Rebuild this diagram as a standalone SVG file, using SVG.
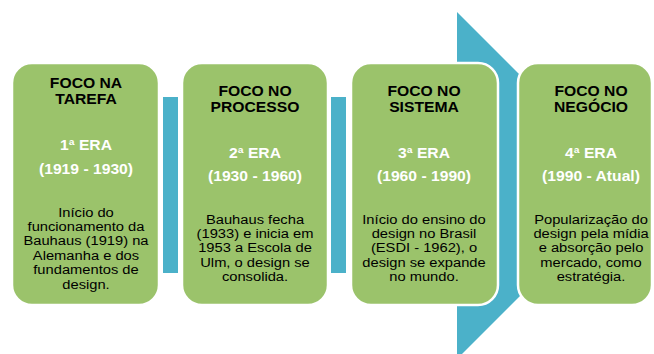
<svg xmlns="http://www.w3.org/2000/svg" width="654" height="354" viewBox="0 0 654 354">
<style>
.box{fill:#9BC36B;stroke:#FFFFFF;stroke-width:2.5}
.con{fill:#4BB1C9}
text{font-family:"Liberation Sans",Arial,sans-serif;text-anchor:middle}
.t{font-size:14px;font-weight:bold;fill:#000}
.e{font-size:14px;font-weight:bold;fill:#FFFFFF}
.b{font-size:13.5px;fill:#000}
</style>
<rect width="654" height="354" fill="#FFFFFF"/>
<g id="connectors">
<rect class="con" x="163" y="97" width="15" height="176"/>
<rect class="con" x="331" y="97" width="15" height="176"/>
<polygon class="con" points="457,12 520,75 520,296 457,359"/>
</g>
<g id="node1">
<rect class="box" x="12" y="63" width="147" height="242" rx="20" ry="20"/>
<g transform="translate(86,0) scale(1.12,1)">
<text class="t" x="0" y="88.5">FOCO NA</text>
<text class="t" x="0" y="104.5">TAREFA</text>
<text class="e" x="0" y="150.5">1ª ERA</text>
<text class="e" x="0" y="174">(1919 - 1930)</text>
</g>
<g transform="translate(86,0) scale(1.09,1)">
<text class="b" x="0" y="216.7">Início do</text>
<text class="b" x="0" y="231.1">funcionamento da</text>
<text class="b" x="0" y="245.5">Bauhaus (1919) na</text>
<text class="b" x="0" y="259.9">Alemanha e dos</text>
<text class="b" x="0" y="274.3">fundamentos de</text>
<text class="b" x="0" y="288.7">design.</text>
</g>
</g>
<g id="node2">
<rect class="box" x="182" y="63" width="146" height="242" rx="20" ry="20"/>
<g transform="translate(255,0) scale(1.12,1)">
<text class="t" x="0" y="95.8">FOCO NO</text>
<text class="t" x="0" y="111.8">PROCESSO</text>
<text class="e" x="0" y="157.8">2ª ERA</text>
<text class="e" x="0" y="181.3">(1930 - 1960)</text>
</g>
<g transform="translate(255,0) scale(1.09,1)">
<text class="b" x="0" y="223.7">Bauhaus fecha</text>
<text class="b" x="0" y="238.1">(1933) e inicia em</text>
<text class="b" x="0" y="252.5">1953 a Escola de</text>
<text class="b" x="0" y="266.9">Ulm, o design se</text>
<text class="b" x="0" y="281.3">consolida.</text>
</g>
</g>
<g id="node3">
<rect class="box" x="351" y="63" width="147" height="242" rx="20" ry="20"/>
<g transform="translate(424,0) scale(1.12,1)">
<text class="t" x="0" y="95.8">FOCO NO</text>
<text class="t" x="0" y="111.8">SISTEMA</text>
<text class="e" x="0" y="157.8">3ª ERA</text>
<text class="e" x="0" y="181.3">(1960 - 1990)</text>
</g>
<g transform="translate(424,0) scale(1.09,1)">
<text class="b" x="0" y="223.7">Início do ensino do</text>
<text class="b" x="0" y="238.1">design no Brasil</text>
<text class="b" x="0" y="252.5">(ESDI - 1962), o</text>
<text class="b" x="0" y="266.9">design se expande</text>
<text class="b" x="0" y="281.3">no mundo.</text>
</g>
</g>
<g id="node4">
<rect class="box" x="518" y="63" width="134" height="242" rx="20" ry="20"/>
<g transform="translate(591,0) scale(1.12,1)">
<text class="t" x="0" y="95.8">FOCO NO</text>
<text class="t" x="0" y="111.8">NEGÓCIO</text>
<text class="e" x="0" y="157.8">4ª ERA</text>
<text class="e" x="0" y="181.3">(1990 - Atual)</text>
</g>
<g transform="translate(591,0) scale(1.09,1)">
<text class="b" x="0" y="223.7">Popularização do</text>
<text class="b" x="0" y="238.1">design pela mídia</text>
<text class="b" x="0" y="252.5">e absorção pelo</text>
<text class="b" x="0" y="266.9">mercado, como</text>
<text class="b" x="0" y="281.3">estratégia.</text>
</g>
</g>
</svg>
